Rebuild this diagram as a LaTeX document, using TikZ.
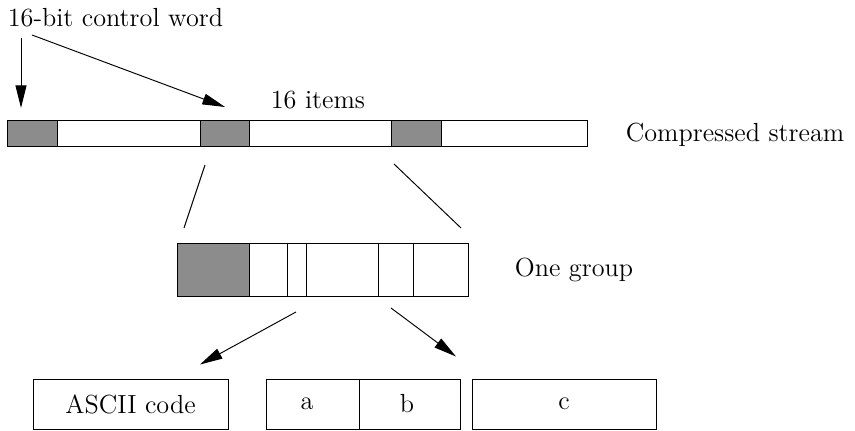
\documentclass[tikz,border=0pt]{standalone}
\usetikzlibrary{arrows.meta,positioning}
\definecolor{shade}{RGB}{140,140,140}
\def\u{0.42pt}
\tikzset{
  >={Triangle[length=9.5pt,width=4.6pt]},
  frame/.style={draw,inner sep=0pt,minimum width=#1*\u},
  cell/.style={frame=#1,fill=shade,minimum height=26*\u},
  field/.style={frame=#1,minimum height=50*\u},
  label/.style={inner sep=1pt},
}
\begin{document}
\begin{tikzpicture}[x=\u,y=-\u,thin,font=\fontsize{11}{13}\selectfont]
  \useasboundingbox (0,0) rectangle (855,431);
  % compressed stream
  \node[frame=580,minimum height=26*\u] (stream) at (297,133) {};
  \node[cell=50] (g1) at (32,133) {};
  \node[cell=49] (g2) at (224.5,133) {};
  \node[cell=50] (g3) at (416,133) {};
  \node[label] (items) at (318,100) {16 items};
  \node[label,anchor=west] (cs) at (623,135) {Compressed stream};
  % control word
  \node[label,anchor=west] (ctrl) at (5,18) {16-bit control word};
  \coordinate (c1) at (21,108);
  \coordinate (c2) at (225,107);
  \draw[->] ([yshift=-20*\u]ctrl.west -| c1) -- (c1);
  \draw[->] ([xshift=27*\u,yshift=-17*\u]ctrl.west) -- (c2);
  % one group
  \node[frame=291,minimum height=53*\u] (grp) at (322.5,269.5) {};
  \node[frame=72,fill=shade,minimum height=53*\u,anchor=west] (gw) at (grp.west) {};
  \foreach \x in {287,306,378,413}
    \draw (\x,243) -- (\x,296);
  \node[label] (og) at (574,270) {One group};
  \coordinate (z1) at (205,165);
  \coordinate (z2) at (184,228);
  \coordinate (z3) at (394,164);
  \coordinate (z4) at (461,228);
  \draw (z1) -- (z2);
  \draw (z3) -- (z4);
  % decoded items
  \node[field=195] (ascii) at (130.5,404) {ASCII code};
  \node[field=194] (ab) at (363,404) {};
  \node (fa) at (307,404) {a};
  \node (fb) at (407,404) {b};
  \draw (359,379) -- (359,429);
  \node[field=184] (fc) at (564,404) {c};
  \coordinate (d1) at (296,312);
  \coordinate (d2) at (391,308);
  \draw[->] (d1) -- ([xshift=69.5*\u,yshift=14*\u]ascii.north);
  \draw[->] (d2) -- ([xshift=93*\u,yshift=22*\u]ab.north);
\end{tikzpicture}
\end{document}
